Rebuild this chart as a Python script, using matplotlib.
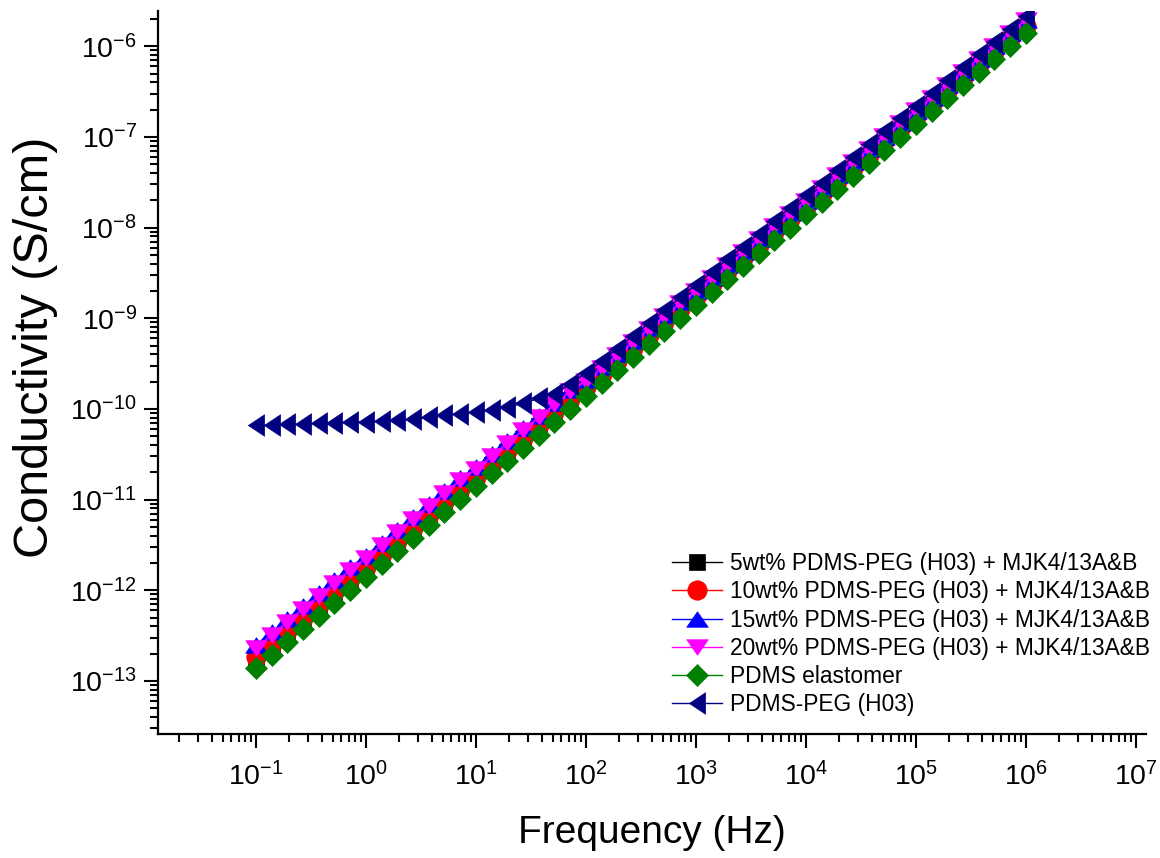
import matplotlib
matplotlib.use("Agg")
import matplotlib.pyplot as plt
from matplotlib.ticker import LogLocator, NullFormatter

plt.rcParams['font.family'] = ['Liberation Sans', 'DejaVu Sans']
plt.rcParams['mathtext.default'] = 'regular'
plt.rcParams['axes.unicode_minus'] = False

# frequency sweep (Hz), 7 points per decade
freq = [0.1, 0.139, 0.193, 0.268, 0.373, 0.518, 0.72,
        1, 1.39, 1.93, 2.68, 3.73, 5.18, 7.2,
        10, 13.9, 19.3, 26.8, 37.3, 51.8, 72,
        100, 139, 193, 268, 373, 518, 720,
        1e3, 1.39e3, 1.93e3, 2.68e3, 3.73e3, 5.18e3, 7.2e3,
        1e4, 1.39e4, 1.93e4, 2.68e4, 3.73e4, 5.18e4, 7.2e4,
        1e5, 1.39e5, 1.93e5, 2.68e5, 3.73e5, 5.18e5, 7.2e5,
        1e6]

# conductivity (S/cm)
pdms_5 = [1.76e-13, 2.45e-13, 3.40e-13, 4.73e-13, 6.57e-13, 9.13e-13, 1.27e-12,
          1.75e-12, 2.43e-12, 3.38e-12, 4.69e-12, 6.52e-12, 9.05e-12, 1.26e-11,
          1.72e-11, 2.39e-11, 3.32e-11, 4.62e-11, 6.41e-11, 8.91e-11, 1.24e-10,
          1.69e-10, 2.35e-10, 3.27e-10, 4.54e-10, 6.31e-10, 8.76e-10, 1.22e-9,
          1.67e-9, 2.31e-9, 3.22e-9, 4.47e-9, 6.20e-9, 8.62e-9, 1.20e-8,
          1.64e-8, 2.28e-8, 3.16e-8, 4.39e-8, 6.10e-8, 8.48e-8, 1.18e-7,
          1.62e-7, 2.26e-7, 3.13e-7, 4.35e-7, 6.05e-7, 8.40e-7, 1.17e-6,
          1.62e-6]
pdms_10 = [1.85e-13, 2.57e-13, 3.57e-13, 4.95e-13, 6.88e-13, 9.56e-13, 1.33e-12,
           1.82e-12, 2.53e-12, 3.51e-12, 4.88e-12, 6.78e-12, 9.42e-12, 1.31e-11,
           1.79e-11, 2.49e-11, 3.46e-11, 4.80e-11, 6.67e-11, 9.27e-11, 1.29e-10,
           1.75e-10, 2.43e-10, 3.38e-10, 4.69e-10, 6.52e-10, 9.05e-10, 1.26e-9,
           1.72e-9, 2.39e-9, 3.32e-9, 4.62e-9, 6.41e-9, 8.91e-9, 1.24e-8,
           1.69e-8, 2.35e-8, 3.27e-8, 4.54e-8, 6.31e-8, 8.76e-8, 1.22e-7,
           1.68e-7, 2.33e-7, 3.24e-7, 4.50e-7, 6.26e-7, 8.69e-7, 1.21e-6,
           1.68e-6]
pdms_15 = [2.49e-13, 3.46e-13, 4.81e-13, 6.68e-13, 9.28e-13, 1.29e-12, 1.79e-12,
           2.41e-12, 3.35e-12, 4.65e-12, 6.46e-12, 8.97e-12, 1.25e-11, 1.73e-11,
           2.27e-11, 3.15e-11, 4.38e-11, 6.09e-11, 8.45e-11, 1.17e-10, 1.63e-10,
           2.10e-10, 2.92e-10, 4.05e-10, 5.63e-10, 7.82e-10, 1.09e-9, 1.51e-9,
           2.02e-9, 2.80e-9, 3.89e-9, 5.40e-9, 7.51e-9, 1.04e-8, 1.45e-8,
           1.96e-8, 2.72e-8, 3.78e-8, 5.25e-8, 7.30e-8, 1.01e-7, 1.41e-7,
           1.93e-7, 2.68e-7, 3.72e-7, 5.17e-7, 7.19e-7, 9.99e-7, 1.39e-6,
           1.93e-6]
pdms_20 = [2.32e-13, 3.23e-13, 4.49e-13, 6.23e-13, 8.65e-13, 1.20e-12, 1.67e-12,
           2.27e-12, 3.15e-12, 4.38e-12, 6.09e-12, 8.45e-12, 1.17e-11, 1.63e-11,
           2.17e-11, 3.01e-11, 4.19e-11, 5.82e-11, 8.08e-11, 1.12e-10, 1.56e-10,
           2.04e-10, 2.84e-10, 3.94e-10, 5.48e-10, 7.61e-10, 1.06e-9, 1.47e-9,
           1.99e-9, 2.76e-9, 3.84e-9, 5.33e-9, 7.40e-9, 1.03e-8, 1.43e-8,
           1.97e-8, 2.74e-8, 3.81e-8, 5.29e-8, 7.35e-8, 1.02e-7, 1.42e-7,
           1.96e-7, 2.72e-7, 3.78e-7, 5.25e-7, 7.30e-7, 1.01e-6, 1.41e-6,
           1.96e-6]
pdms_elast = [1.40e-13, 1.94e-13, 2.69e-13, 3.75e-13, 5.20e-13, 7.24e-13, 1.01e-12,
              1.40e-12, 1.94e-12, 2.70e-12, 3.75e-12, 5.21e-12, 7.23e-12, 1.01e-11,
              1.40e-11, 1.95e-11, 2.70e-11, 3.75e-11, 5.21e-11, 7.24e-11, 1.01e-10,
              1.40e-10, 1.94e-10, 2.70e-10, 3.75e-10, 5.20e-10, 7.24e-10, 1.01e-9,
              1.40e-9, 1.94e-9, 2.70e-9, 3.74e-9, 5.21e-9, 7.24e-9, 1.00e-8,
              1.40e-8, 1.94e-8, 2.70e-8, 3.75e-8, 5.21e-8, 7.22e-8, 1.00e-7,
              1.39e-7, 1.94e-7, 2.69e-7, 3.74e-7, 5.20e-7, 7.22e-7, 1.00e-6,
              1.39e-6]
pdms_peg = [6.61e-11, 6.61e-11, 6.76e-11, 6.79e-11, 6.92e-11, 7.03e-11, 7.10e-11,
            7.21e-11, 7.35e-11, 7.52e-11, 7.71e-11, 8.09e-11, 8.55e-11, 8.91e-11,
            9.29e-11, 9.70e-11, 1.05e-10, 1.15e-10, 1.31e-10, 1.48e-10, 1.87e-10,
            2.49e-10, 3.38e-10, 4.64e-10, 6.38e-10, 8.80e-10, 1.22e-9, 1.70e-9,
            2.34e-9, 3.22e-9, 4.48e-9, 6.19e-9, 8.60e-9, 1.19e-8, 1.65e-8,
            2.27e-8, 3.14e-8, 4.35e-8, 6.00e-8, 8.34e-8, 1.15e-7, 1.60e-7,
            2.21e-7, 3.05e-7, 4.24e-7, 5.85e-7, 8.13e-7, 1.12e-6, 1.57e-6,
            2.17e-6]

labels = ['5wt% PDMS-PEG (H03) + MJK4/13A&B',
          '10wt% PDMS-PEG (H03) + MJK4/13A&B',
          '15wt% PDMS-PEG (H03) + MJK4/13A&B',
          '20wt% PDMS-PEG (H03) + MJK4/13A&B',
          'PDMS elastomer',
          'PDMS-PEG (H03)']

# labelled decades on each axis
x_ticks = [1e-1, 1e0, 1e1, 1e2, 1e3, 1e4, 1e5, 1e6, 1e7]
y_ticks = [1e-13, 1e-12, 1e-11, 1e-10, 1e-9, 1e-8, 1e-7, 1e-6]

# Origin-style wide triangles
tri_up = [(0, 0.72), (-1, -0.72), (1, -0.72), (0, 0.72)]
tri_down = [(0, -0.72), (-1, 0.72), (1, 0.72), (0, -0.72)]
tri_left = [(-0.75, 0), (0.75, 1), (0.75, -1), (-0.75, 0)]

series = [
    (pdms_5, '#000000', 's', 11),
    (pdms_10, '#FF0000', 'o', 14),
    (pdms_15, '#0000FF', tri_up, 15.5),
    (pdms_20, '#FF00FF', tri_down, 15.5),
    (pdms_elast, '#008000', 'D', 11),
    (pdms_peg, '#000080', tri_left, 15.5),
]

fig = plt.figure(figsize=(11.6, 8.58), dpi=100)
ax = fig.add_axes([0.1362, 0.1445, 0.8515, 0.8427])

for (vals, col, mk, ms), lab in zip(series, labels):
    ax.plot(freq, vals, color=col, lw=1, marker=mk, markersize=ms,
            markerfacecolor=col, markeredgecolor=col, markeredgewidth=0.5,
            label=lab)

ax.set_xscale('log')
ax.set_yscale('log')
ax.set_xticks(x_ticks)
ax.set_yticks(y_ticks)
ax.set_xlim(0.0129, 1.23e7)
ax.set_ylim(2.6e-14, 2.45e-6)

ax.xaxis.set_minor_locator(LogLocator(base=10, subs=range(2, 10), numticks=20))
ax.xaxis.set_minor_formatter(NullFormatter())
ax.yaxis.set_minor_locator(LogLocator(base=10, subs=range(2, 10), numticks=20))
ax.yaxis.set_minor_formatter(NullFormatter())

for side in ['top', 'right']:
    ax.spines[side].set_visible(False)
for side in ['left', 'bottom']:
    ax.spines[side].set_linewidth(1.6)

ax.tick_params(which='major', direction='out', length=10, width=1.5, labelsize=20.5)
ax.tick_params(which='minor', direction='out', length=5.5, width=1.5)
ax.tick_params(axis='x', which='major', pad=10)
ax.tick_params(axis='y', which='major', pad=5)

ax.set_xlabel('Frequency (Hz)', fontsize=28, labelpad=17)
ax.set_ylabel('Conductivity (S/cm)', fontsize=35)
ax.yaxis.set_label_coords(-0.101, 0.535)

ax.legend(loc='lower right', bbox_to_anchor=(1.014, 0.012), frameon=False,
          fontsize=16.4, handlelength=2.2, handletextpad=0.35,
          labelspacing=0.23, borderaxespad=0)

fig.savefig('out.png', dpi=100)
